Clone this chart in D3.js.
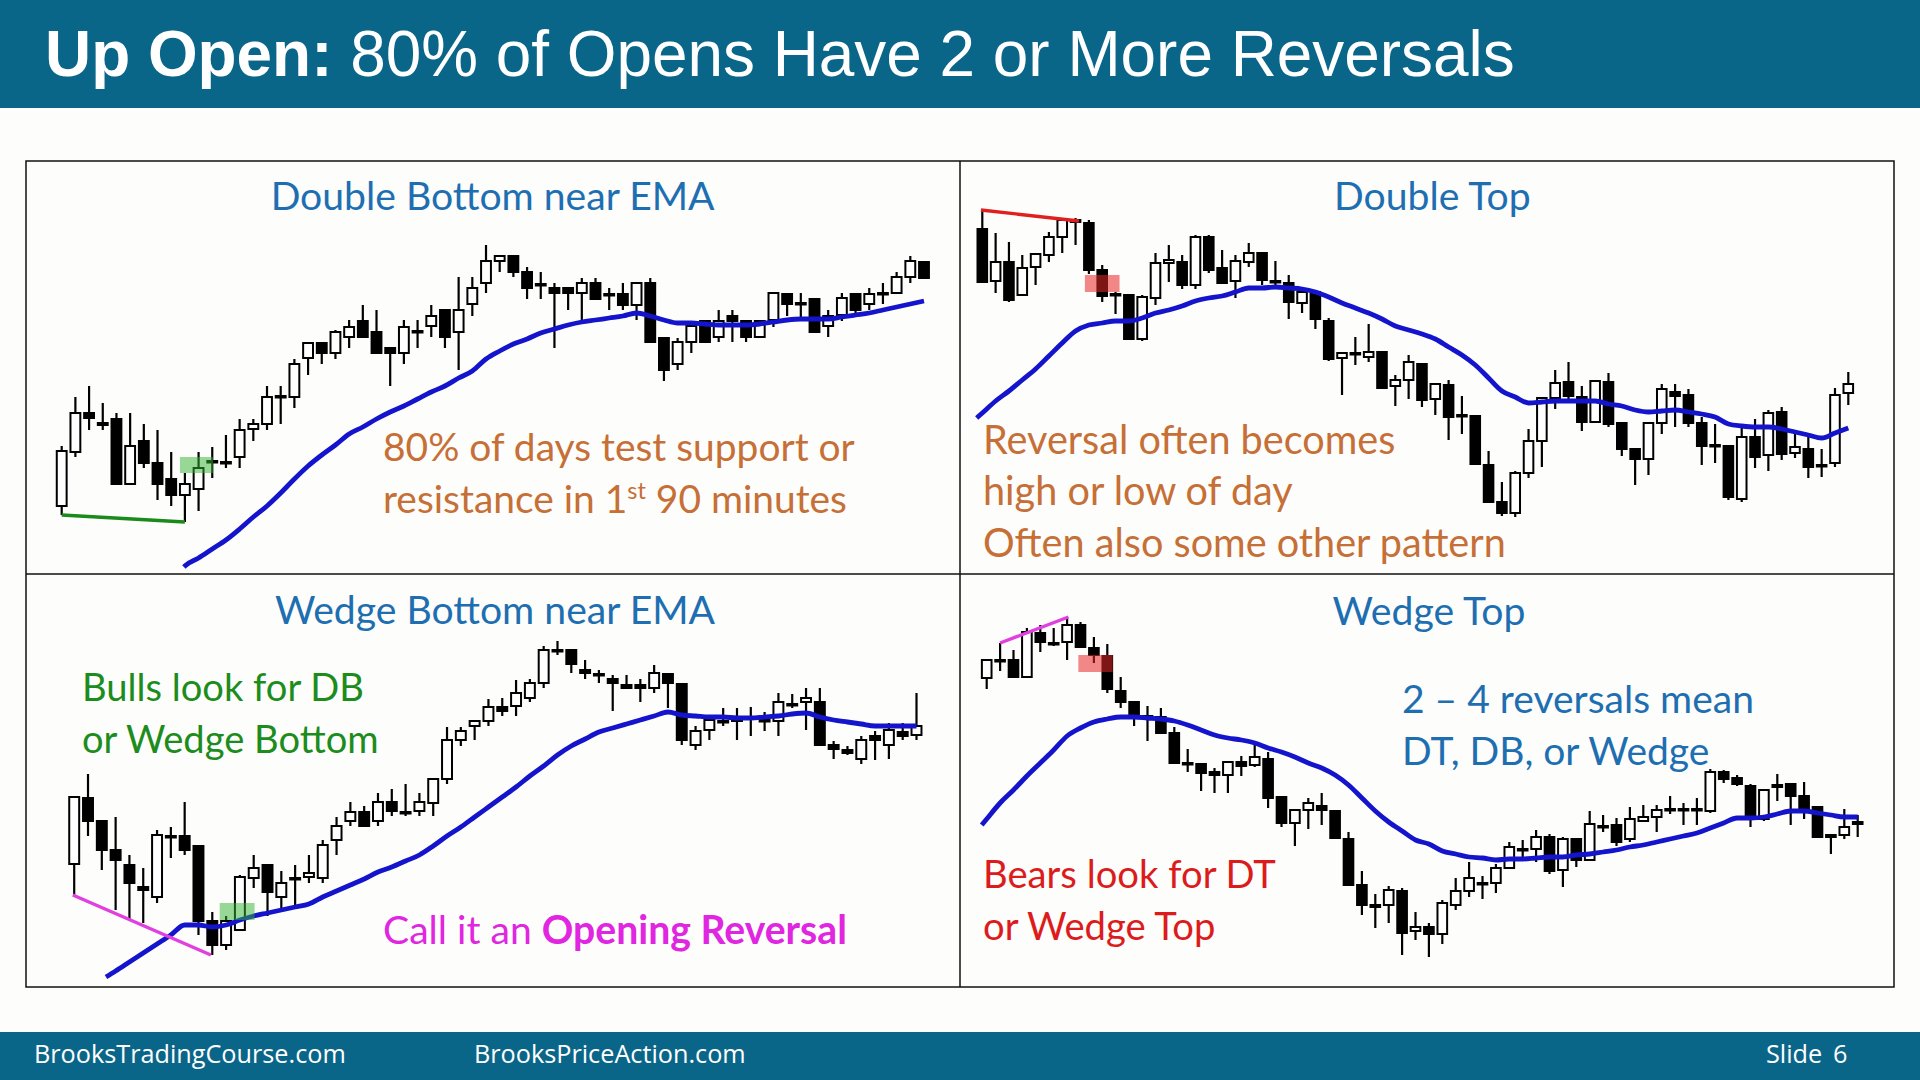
<!DOCTYPE html>
<html><head><meta charset="utf-8">
<script src="https://cdn.jsdelivr.net/npm/d3@7"></script>
<style>html,body{margin:0;padding:0;background:#fdfdfb;overflow:hidden}svg{display:block}</style>
</head><body>
<script>
// ---------------- DATA ----------------
const titleBold = "Up Open:";
const titleRest = " 80% of Opens Have 2 or More Reversals";
const footerLeft = "BrooksTradingCourse.com";
const footerMid = "BrooksPriceAction.com";
const footerSlide = "Slide";
const footerNum = "6";
const panelTitles = ["Double Bottom near EMA", "Double Top", "Wedge Bottom near EMA", "Wedge Top"];

// candles: [open, high, low, close]
const dbCandles = [
[494,554,485,549],[548,603,543,587],[587,614,570,582],[577,597,570,575],[581,587,516,516],[516,587,516,554],
[559,576,532,537],[537,570,500,516],[521,548,494,505],[505,527,478,516],[511,548,489,532],[538,553,522,539],
[537,565,532,538],[543,581,532,570],[571,581,559,576],[576,614,570,603],[603,614,576,604],[603,641,592,636],
[642,658,625,657],[657,657,636,647],[647,670,641,668],[663,680,652,673],[679,695,663,663],[668,690,647,647],
[652,652,614,647],[647,680,636,673],[668,680,652,669],[674,695,663,684],[690,690,652,663],[668,723,630,690],
[696,723,684,712],[717,755,707,739],[739,744,728,744],[744,744,723,728],[728,733,701,712],[716,728,701,715],
[712,717,652,707],[712,712,690,707],[707,722,680,717],[717,722,701,701],[706,712,690,705],[706,717,690,695],
[695,717,680,717],[717,722,658,658],[662,662,619,630],[636,662,630,658],[658,679,647,674],[679,679,658,658],
[663,690,658,679],[684,690,658,679],[679,679,658,663],[663,679,663,679],[680,707,673,707],[706,706,684,696],
[696,707,680,697],[701,701,668,668],[674,690,663,684],[685,707,679,702],[706,706,685,690],[696,712,690,706],
[706,717,696,707],[707,728,707,723],[723,744,717,739],[738,738,722,722]];
const dbEma = [null,null,null,null,null,null,null,null,null,
434,442,451,460,471,483,494,507,521,534,545,555,566,573,581,588,594,601,608,614,622,629,641,649,656,661,667,
671,675,678,680,682,684,687,684,680,677,677,676,675,675,675,676,678,680,681,681,681,683,685,687,690,693,696,699];
const dbEmaHead = [8.93, 433];

const dtCandles = [
[771,790,717,718],[719,767,707,738],[738,758,698,700],[705,745,704,732],[733,747,715,746],[745,768,738,763],
[763,780,747,780],[780,782,755,778],[777,780,726,730],[730,735,698,704],[706,708,686,705],[705,705,661,661],
[661,705,659,703],[702,747,695,737],[737,755,718,740],[738,745,711,715],[715,765,711,763],[763,765,727,730],
[732,750,717,717],[719,745,702,739],[738,757,733,747],[747,748,715,720],[719,739,715,718],[717,725,681,698],
[697,713,687,708],[708,708,671,681],[679,682,639,641],[642,647,605,647],[647,663,635,646],[643,676,638,648],
[648,648,611,612],[614,625,594,620],[620,645,601,638],[636,636,593,600],[601,616,585,616],[615,620,560,583],
[585,604,566,584],[584,584,535,536],[535,549,497,498],[498,518,484,487],[487,529,483,527],[527,571,522,559],
[559,603,533,602],[602,630,591,617],[618,638,597,604],[603,614,569,578],[578,620,578,619],[618,627,573,576],
[577,578,544,551],[551,551,515,541],[541,577,525,577],[577,616,566,611],[608,616,573,604],[605,611,573,577],
[577,583,535,554],[555,576,537,554],[554,554,500,503],[501,573,498,563],[563,581,532,543],[545,590,529,587],
[588,593,540,546],[547,566,542,553],[551,563,522,533],[535,551,523,534],[537,612,533,605],[607,628,595,616]];
const dtEma = [587,599,609,620,631,644,657,669,675,677,679,679,682,687,690,694,699,702,704,708,712,712,713,712,711,
708,703,697,692,687,681,674,670,666,661,653,645,635,622,609,603,597,598,599,599,599,599,596,594,590,588,589,590,
588,586,583,576,574,573,573,571,568,565,562,567,572];
const dtEmaHead = [-0.42, 582];

const wbCandles = [
[536,603,505,603],[602,626,564,579],[579,579,530,550],[550,583,490,540],[535,545,480,517],[513,532,477,510],
[503,570,497,565],[564,573,542,563],[564,598,545,550],[554,554,465,479],[479,488,445,455],[455,484,450,479],
[470,525,470,523],[522,545,512,532],[535,535,484,508],[503,529,490,517],[522,535,494,521],[523,545,517,527],
[522,560,517,555],[560,583,545,574],[579,598,574,588],[588,594,574,574],[579,607,574,598],[598,611,584,589],
[588,616,584,587],[589,607,584,598],[597,621,584,621],[621,673,616,660],[660,673,654,669],[674,680,660,679],
[679,701,674,693],[693,702,684,689],[694,720,684,707],[702,721,698,717],[717,754,712,750],[750,759,745,749],
[750,750,727,736],[730,740,721,727],[726,730,717,725],[721,725,689,717],[715,725,712,712],[715,721,698,712],
[712,735,707,727],[726,727,692,717],[716,716,655,660],[655,674,650,669],[670,683,660,680],[679,692,674,678],
[679,692,660,683],[683,693,664,682],[680,688,669,679],[679,707,664,698],[696,706,692,695],[698,712,670,702],
[698,712,654,655],[655,659,641,651],[650,654,645,647],[641,664,636,660],[664,669,640,660],[655,677,641,670],
[668,677,660,664],[665,707,660,674]];
const wbEma = [null,null,null,429,438,447,456,465,475,475,473,475,480,484,487,490,493,496,503,509,515,521,528,533,539,
545,554,564,573,583,593,603,613,624,634,645,654,661,668,672,676,680,684,688,685,684,683,683,682,682,683,684,686,
687,683,680,678,676,674,674,674,674];
const wbEmaHead = [2.3, 423];

const wtCandles = [
[722,740,711,740],[740,757,729,739],[740,750,722,723],[723,772,722,768],[767,775,748,758],[757,772,754,756],
[758,783,740,775],[775,778,752,753],[752,763,737,745],[744,756,707,711],[709,723,692,698],[698,698,674,684],
[684,694,659,683],[683,692,666,667],[667,673,636,637],[637,651,628,636],[636,636,609,627],[628,632,607,625],
[625,638,607,638],[638,644,624,634],[635,656,633,643],[641,648,592,602],[603,603,573,577],[577,591,554,590],
[590,602,571,597],[594,607,575,590],[589,589,561,562],[561,568,514,515],[515,529,485,495],[493,506,472,495],
[495,514,477,510],[509,512,445,467],[469,488,460,473],[473,477,443,466],[466,500,456,497],[495,522,490,509],
[509,538,503,522],[517,524,501,516],[517,536,507,532],[532,558,532,553],[551,560,543,550],[551,570,538,563],
[563,566,526,529],[530,563,513,561],[561,562,533,540],[540,589,540,576],[574,585,568,573],[575,582,554,558],
[561,593,558,581],[579,595,579,583],[583,595,568,590],[591,604,586,590],[591,597,575,590],[591,602,575,590],
[589,631,587,628],[628,630,617,621],[622,625,614,616],[614,616,573,583],[581,611,579,610],[613,626,599,615],
[616,616,575,604],[604,618,581,592],[593,593,563,563],[563,565,546,565],[565,591,561,573],[576,585,563,578]];
const wtEma = [581,597,610,624,637,650,664,672,678,681,683,683,682,681,679,675,670,665,662,660,657,652,648,643,637,
632,625,615,602,589,578,569,560,556,549,546,543,542,540,541,541,542,543,543,545,546,548,550,553,555,558,561,564,
567,572,577,582,582,583,586,589,589,587,585,583,583];
const wtEmaHead = [-0.37, 575];

// highlight boxes: [fromIndex, toIndex, lowPrice, highPrice]
const dbBox = [8.64, 11.05, 527, 543];
const dtBox = [7.7, 10.3, 708, 725];
const wbBox = [10.54, 13.06, 480, 497];
const wtBox = [6.84, 9.4, 728, 745];
// pattern lines: [[index, price], [index, price]]
const dbLine = [[0, 485], [9, 478]];
const dtLine = [[-0.1, 790], [7.25, 779]];
const wbLine = [[-0.1, 505], [9.9, 445]];
const wtLine = [[1, 757], [6.1, 783]];

const dbNotes = ["80% of days test support or", "resistance in 1", "st", " 90 minutes"];
const dtNotes = ["Reversal often becomes", "high or low of day", "Often also some other pattern"];
const wbNotes = ["Bulls look for DB", "or Wedge Bottom"];
const wbCall = ["Call it an ", "Opening Reversal"];
const wtNotes = ["2 – 4 reversals mean", "DT, DB, or Wedge"];
const wtBears = ["Bears look for DT", "or Wedge Top"];

// ---------------- DRAW ----------------
const W = 1920, H = 1080;
const CAL = "Lato, 'Open Sans', sans-serif";
const svg = d3.select("body").append("svg").attr("width", W).attr("height", H);
svg.append("rect").attr("width", W).attr("height", H).attr("fill", "#fdfdfb");

function fitWidth(sel, target) {
  const w = sel.node().getComputedTextLength();
  const fs = +sel.attr("font-size");
  const n = fs * target / w;
  sel.attr("font-size", n);
  return n;
}

// header
svg.append("rect").attr("x", 0).attr("y", 0).attr("width", W).attr("height", 108).attr("fill", "#0a6689");
const title = svg.append("text").attr("x", 45).attr("y", 76).attr("fill", "#fff")
  .attr("font-family", "'Liberation Sans', Arial, sans-serif").attr("font-size", 64)
  .style("white-space", "pre");
title.append("tspan").attr("font-weight", "bold").text(titleBold);
title.append("tspan").text(titleRest);
fitWidth(title, 1470);

// footer
svg.append("rect").attr("x", 0).attr("y", 1032).attr("width", W).attr("height", 48).attr("fill", "#0a6689");
const fl = svg.append("text").attr("x", 34).attr("y", 1063).attr("fill", "#fff")
  .attr("font-family", "'Open Sans', sans-serif").attr("font-size", 22).text(footerLeft);
const ffs = fitWidth(fl, 312);
svg.append("text").attr("x", 474).attr("y", 1063).attr("fill", "#fff")
  .attr("font-family", "'Open Sans', sans-serif").attr("font-size", ffs).text(footerMid);
svg.append("text").attr("x", 1766).attr("y", 1063).attr("fill", "#fff")
  .attr("font-family", "'Open Sans', sans-serif").attr("font-size", ffs).text(footerSlide);
svg.append("text").attr("x", 1833).attr("y", 1063).attr("fill", "#fff")
  .attr("font-family", "'Open Sans', sans-serif").attr("font-size", ffs).text(footerNum);

// panels
const panels = [
  {candles: dbCandles, ema: dbEma, head: dbEmaHead, box: dbBox, boxFill: "rgba(50,180,50,0.5)", line: dbLine, lineColor: "#1a8a1a",
   left: 26, right: 960, top: 161, bottom: 574, x0: 61.7, x1: 924, dom: [426, 839]},
  {candles: dtCandles, ema: dtEma, head: dtEmaHead, box: dtBox, boxFill: "rgba(232,40,40,0.55)", line: dtLine, lineColor: "#e02020",
   left: 960, right: 1894, top: 161, bottom: 574, x0: 982.3, x1: 1848.3, dom: [426, 839]},
  {candles: wbCandles, ema: wbEma, head: wbEmaHead, box: wbBox, boxFill: "rgba(50,180,50,0.5)", line: wbLine, lineColor: "#e040e0",
   left: 26, right: 960, top: 574, bottom: 987, x0: 74.2, x1: 916.5, dom: [413, 826]},
  {candles: wtCandles, ema: wtEma, head: wtEmaHead, box: wtBox, boxFill: "rgba(232,40,40,0.55)", line: wtLine, lineColor: "#e040e0",
   left: 960, right: 1894, top: 574, bottom: 987, x0: 986.7, x1: 1857.7, dom: [413, 826]}
];

panels.forEach((p, k) => {
  const n = p.candles.length;
  const x = d3.scaleLinear().domain([0, n - 1]).range([p.x0, p.x1]);
  const y = d3.scaleLinear().domain(p.dom).range([p.bottom, p.top]);
  const step = (p.x1 - p.x0) / (n - 1);
  const bw = step * 0.72;
  const cid = "clip" + k;
  svg.append("clipPath").attr("id", cid).append("rect")
    .attr("x", p.left).attr("y", p.top).attr("width", p.right - p.left).attr("height", p.bottom - p.top);
  const g = svg.append("g").attr("clip-path", `url(#${cid})`);

  g.selectAll("line.wick").data(p.candles).join("line").attr("class", "wick")
    .attr("x1", (d, i) => x(i)).attr("x2", (d, i) => x(i))
    .attr("y1", d => y(d[1])).attr("y2", d => y(d[2]))
    .attr("stroke", "#000").attr("stroke-width", 2.2);
  g.selectAll("rect.body").data(p.candles).join("rect").attr("class", "body")
    .attr("x", (d, i) => x(i) - bw / 2).attr("width", bw)
    .attr("y", d => y(Math.max(d[0], d[3])))
    .attr("height", d => Math.max(1.5, Math.abs(y(d[0]) - y(d[3]))))
    .attr("fill", d => d[3] > d[0] ? "#fff" : "#000")
    .attr("stroke", "#000").attr("stroke-width", 2);

  const pts = [p.head].concat(p.ema.map((v, i) => [i, v]).filter(d => d[1] != null));
  const emaLine = d3.line().x(d => x(d[0])).y(d => y(d[1])).curve(d3.curveMonotoneX);
  g.append("path").attr("d", emaLine(pts)).attr("fill", "none")
    .attr("stroke", "#1414cc").attr("stroke-width", 4.8).attr("stroke-linejoin", "round");

  g.append("rect").attr("x", x(p.box[0])).attr("width", x(p.box[1]) - x(p.box[0]))
    .attr("y", y(p.box[3])).attr("height", y(p.box[2]) - y(p.box[3])).attr("fill", p.boxFill);

  g.append("line").attr("x1", x(p.line[0][0])).attr("y1", y(p.line[0][1]))
    .attr("x2", x(p.line[1][0])).attr("y2", y(p.line[1][1]))
    .attr("stroke", p.lineColor).attr("stroke-width", 3.4);
});

// panel titles
const BLUE = "#1e6fb2";
const tpos = [[492.6, 210], [1432.4, 210], [495, 624], [1429, 625]];
const t0 = svg.append("text").attr("x", tpos[0][0]).attr("y", tpos[0][1]).attr("text-anchor", "middle")
  .attr("font-family", CAL).attr("font-size", 40).attr("fill", BLUE).text(panelTitles[0]);
const tfs = fitWidth(t0, 444);
panelTitles.slice(1).forEach((t, i) => {
  svg.append("text").attr("x", tpos[i + 1][0]).attr("y", tpos[i + 1][1]).attr("text-anchor", "middle")
    .attr("font-family", CAL).attr("font-size", tfs).attr("fill", BLUE).text(t);
});

// annotations
const ORANGE = "#c66f36", GREEN = "#1c8c1c", MAG = "#e026e0", RED = "#dc1c1c";
function note(xp, yp, txt, color, fs) {
  return svg.append("text").attr("x", xp).attr("y", yp).attr("font-family", CAL)
    .attr("font-size", fs || 36).attr("fill", color).style("white-space", "pre").text(txt);
}
// Double bottom block
const a1 = note(383, 461, dbNotes[0], ORANGE);
const fs1 = fitWidth(a1, 472);
const r2 = svg.append("text").attr("x", 383).attr("y", 513).attr("font-family", CAL)
  .attr("font-size", fs1).attr("fill", ORANGE).style("white-space", "pre");
r2.append("tspan").text(dbNotes[1]);
r2.append("tspan").attr("baseline-shift", "super").style("font-size", "60%").text(dbNotes[2]);
r2.append("tspan").text(dbNotes[3]);

// Double top block
const a3 = note(983, 557, dtNotes[2], ORANGE);
const fs2 = fitWidth(a3, 523);
note(983, 454, dtNotes[0], ORANGE, fs2);
note(983, 505, dtNotes[1], ORANGE, fs2);

// Wedge bottom blocks
const b1 = note(82, 701, wbNotes[0], GREEN);
const fs3 = fitWidth(b1, 282);
note(82, 753, wbNotes[1], GREEN, fs3);
const call = svg.append("text").attr("x", 383).attr("y", 944).attr("font-family", CAL)
  .attr("font-size", 36).attr("fill", MAG).style("white-space", "pre");
call.append("tspan").text(wbCall[0]);
call.append("tspan").attr("font-weight", "bold").text(wbCall[1]);
fitWidth(call, 464);

// Wedge top blocks
const c1 = note(1402, 713, wtNotes[0], BLUE);
const fs4 = fitWidth(c1, 352);
note(1402, 765, wtNotes[1], BLUE, fs4);
const d1 = note(983, 888, wtBears[0], RED);
const fs5 = fitWidth(d1, 293);
note(983, 940, wtBears[1], RED, fs5);

// panel borders
const bord = svg.append("g").attr("fill", "none").attr("stroke", "#111").attr("stroke-width", 1.5);
bord.append("rect").attr("x", 26).attr("y", 161).attr("width", 1868).attr("height", 826);
bord.append("line").attr("x1", 960).attr("x2", 960).attr("y1", 161).attr("y2", 987);
bord.append("line").attr("x1", 26).attr("x2", 1894).attr("y1", 574).attr("y2", 574);
</script>
</body></html>
